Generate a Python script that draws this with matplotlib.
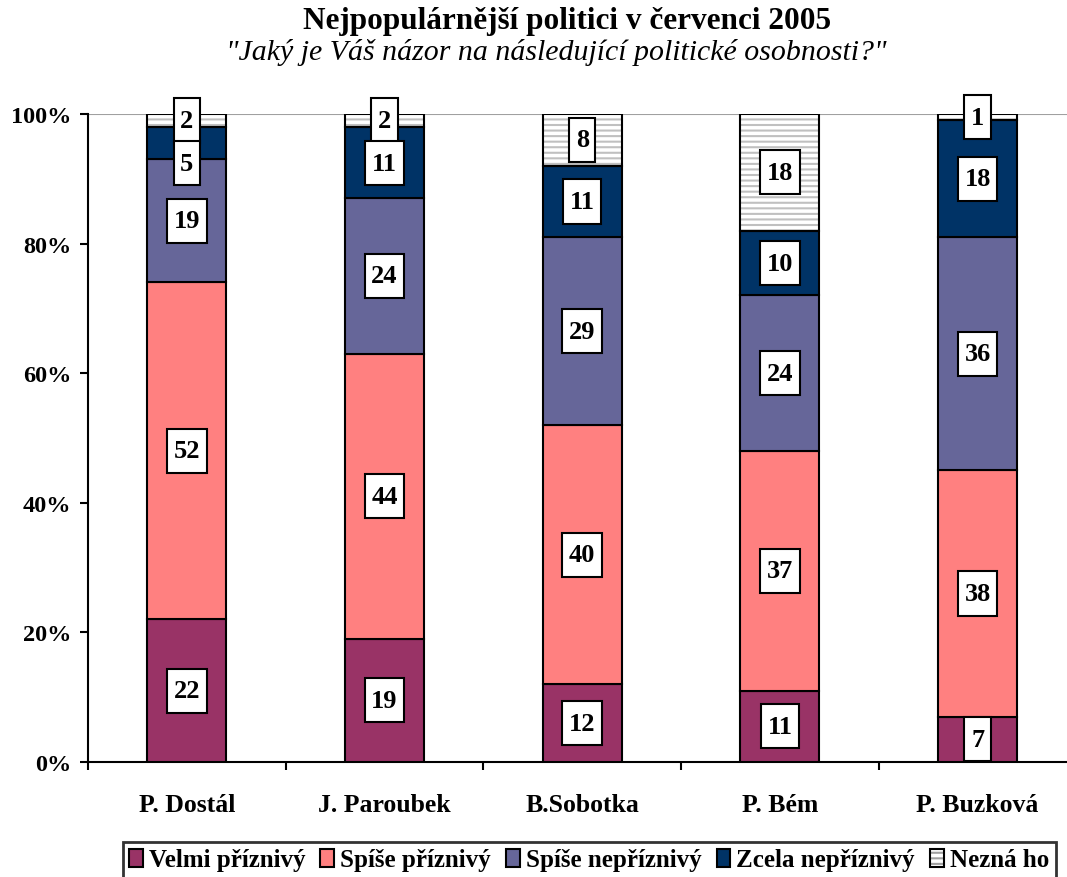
import matplotlib.pyplot as plt
import numpy as np
from matplotlib.path import Path
from matplotlib.patches import Patch

plt.rcParams['font.family'] = ['Liberation Serif', 'DejaVu Serif']
plt.rcParams['hatch.linewidth'] = 1.5

# Data
politicians = ["P. Dostál", "J. Paroubek", "B.Sobotka", "P. Bém", "P. Buzková"]
categories = ["Velmi příznivý", "Spíše příznivý", "Spíše nepříznivý",
              "Zcela nepříznivý", "Nezná ho"]
velmi = [22, 19, 12, 11, 7]
spise_p = [52, 44, 40, 37, 38]
spise_n = [19, 24, 29, 24, 36]
zcela = [5, 11, 11, 10, 18]
nezna = [2, 2, 8, 18, 1]
y_ticks = [0, 20, 40, 60, 80, 100]
y_labels = ["0%", "20%", "40%", "60%", "80%", "100%"]

colors = ["#993366", "#FF8080", "#666699", "#003366", "white"]
series = [velmi, spise_p, spise_n, zcela, nezna]

W, H = 1067, 878
fig = plt.figure(figsize=(W / 100, H / 100), dpi=100)
# axes spans a bit past the right edge, like the original
ax = fig.add_axes([88 / W, 1 - 763 / H, 988.5 / W, (763 - 115) / H])

x = np.arange(len(politicians))
bar_w = 0.40
bottom = np.zeros(len(politicians))
for vals, col in zip(series, colors):
    vals = np.array(vals, dtype=float)
    if col == "white":
        ax.bar(x, vals, bar_w, bottom=bottom, color="white", edgecolor="#C0C0C0",
               hatch="---", linewidth=0, zorder=2)
        ax.bar(x, vals, bar_w, bottom=bottom, fill=False, edgecolor="black",
               linewidth=1.5, zorder=3)
    else:
        ax.bar(x, vals, bar_w, bottom=bottom, color=col, edgecolor="black",
               linewidth=1.5, zorder=3)
    bottom += vals


# label box: narrow sideways, tall vertically
def tall_box(x0, y0, width, height, mutation_size):
    px, py = 0.25 * mutation_size, 0.4 * mutation_size
    x0, y0 = x0 - px, y0 - py
    x1, y1 = x0 + width + 2 * px, y0 + height + 2 * py
    return Path([(x0, y0), (x1, y0), (x1, y1), (x0, y1), (x0, y0)], closed=True)


min_gap = 6.6
for i in range(len(politicians)):
    tops = np.cumsum([s[i] for s in series])
    bots = tops - np.array([s[i] for s in series])
    prev = None
    for k in range(len(series) - 1, -1, -1):
        yc = (tops[k] + bots[k]) / 2
        if prev is not None:
            yc = min(yc, prev - min_gap)
        prev = yc
        ax.text(x[i], yc, str(series[k][i]), ha="center", va="center",
                fontsize=19, fontweight="bold", zorder=5,
                bbox=dict(boxstyle=tall_box, facecolor="white",
                          edgecolor="black", linewidth=1.5))

ax.axhline(100, color="#A0A0A0", linewidth=1.5, zorder=1)
ax.set_xlim(-0.5, len(politicians) - 0.5)
ax.set_ylim(0, 100)
ax.set_yticks(y_ticks)
ax.set_yticklabels(y_labels, fontsize=17.5, fontweight="bold")
ax.set_xticks(x)
ax.set_xticklabels(politicians, fontsize=18.5, fontweight="bold")
ax.tick_params(axis="x", which="major", length=0, pad=22)
ax.set_xticks(np.arange(-0.5, len(politicians) - 0.4, 1.0), minor=True)
ax.tick_params(axis="x", which="minor", length=6, width=1.5, direction="out")
ax.tick_params(axis="y", length=6, width=1.5, direction="out", pad=6)
for s in ["top", "right"]:
    ax.spines[s].set_visible(False)
for s in ["left", "bottom"]:
    ax.spines[s].set_linewidth(1.5)

fig.text(567 / W, 1 - 22 / H, "Nejpopulárnější politici v červenci 2005",
         ha="center", va="center", fontsize=22.5, fontweight="bold")
fig.text(556 / W, 1 - 52 / H, "\"Jaký je Váš názor na následující politické osobnosti?\"",
         ha="center", va="center", fontsize=21.5, style="italic")

handles = []
for col, lab in zip(colors, categories):
    if col == "white":
        handles.append((Patch(facecolor="white", edgecolor="#A0A0A0", hatch="---", linewidth=0),
                        Patch(fill=False, edgecolor="black", linewidth=1.5)))
    else:
        handles.append(Patch(facecolor=col, edgecolor="black", linewidth=1.5))
leg = fig.legend(handles, categories, loc="center", bbox_to_anchor=(589 / W, 1 - 861 / H),
                 ncol=5, frameon=True, fancybox=False, handlelength=0.55,
                 handleheight=0.75, handletextpad=0.25, columnspacing=0.6,
                 borderpad=0.25, prop={"size": 18, "weight": "bold"})
leg.get_frame().set_edgecolor("black")
leg.get_frame().set_linewidth(2)

fig.savefig("out.png", dpi=100)
